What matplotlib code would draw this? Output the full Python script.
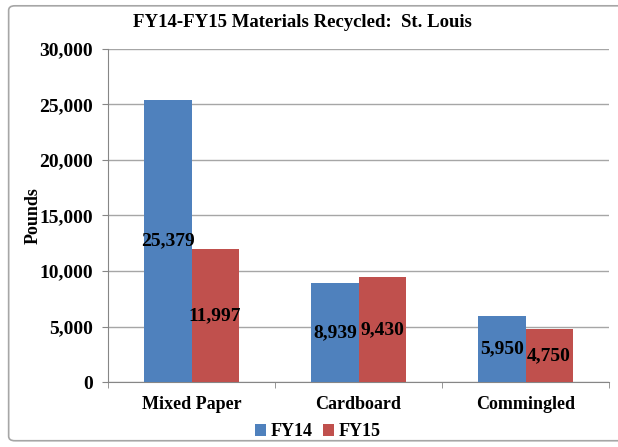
import numpy as np
import matplotlib
matplotlib.use("Agg")
import matplotlib.pyplot as plt
from matplotlib.patches import FancyBboxPatch

categories = ["Mixed Paper", "Cardboard", "Commingled"]
fy14 = [25379, 8939, 5950]
fy15 = [11997, 9430, 4750]
series_names = ["FY14", "FY15"]
yticks = [0, 5000, 10000, 15000, 20000, 25000, 30000]

plt.rcParams["font.family"] = ["Liberation Serif", "DejaVu Serif"]
plt.rcParams["font.weight"] = "bold"

fig = plt.figure(figsize=(6.18, 4.47), dpi=100)
# rahmen um den ganzen chart
fig.patches.append(FancyBboxPatch((0.014, 0.014), 1.0, 0.973, boxstyle="round,pad=0,rounding_size=0.01",
                                  transform=fig.transFigure, fill=False, ec="#a6a6a6", lw=1.2, zorder=-1))
ax = fig.add_axes([0.1748, 0.1454, 0.8107, 0.745])

x = np.arange(len(categories))
w = 0.283
b1 = ax.bar(x - w / 2, fy14, w, color="#4F81BD", label=series_names[0], zorder=3)
b2 = ax.bar(x + w / 2, fy15, w, color="#C0504D", label=series_names[1], zorder=3)

for bars in (b1, b2):
    for r in bars:
        h = r.get_height()
        ax.text(r.get_x() + r.get_width() / 2, h / 2, f"{h:,.0f}", ha="center", va="center",
                fontsize=14, fontweight="bold", color="black", zorder=4)

ax.set_xlim(-0.5, 2.5)
ax.set_ylim(0, 30000)
ax.set_yticks(yticks)
ax.set_yticklabels([f"{v:,}" for v in yticks], fontsize=14, fontweight="bold")
ax.set_xticks(x)
ax.set_xticklabels(categories, fontsize=13, fontweight="bold")
ax.set_xticks([-0.5, 0.5, 1.5, 2.5], minor=True)
ax.tick_params(axis="x", which="major", length=0, pad=10)
ax.tick_params(axis="x", which="minor", length=4, color="#868686")
ax.tick_params(axis="y", length=4, color="#868686", pad=7)
ax.grid(axis="y", color="#a6a6a6", lw=1, zorder=0)
for s in ["top", "right"]:
    ax.spines[s].set_visible(False)
for s in ["left", "bottom"]:
    ax.spines[s].set_color("#868686")
ax.set_ylabel("Pounds", fontsize=13, fontweight="bold", labelpad=-2)
fig.text(0.49, 0.949, "FY14-FY15 Materials Recycled:  St. Louis", ha="center", va="center",
         fontsize=13.5, fontweight="bold")

fig.legend(loc="center", bbox_to_anchor=(0.514, 0.034), ncol=2, frameon=False,
           prop={"size": 13, "weight": "bold"}, handlelength=0.6, handleheight=0.6,
           handletextpad=0.25, columnspacing=0.6, borderaxespad=0, borderpad=0)

fig.savefig("out.png", dpi=100)
